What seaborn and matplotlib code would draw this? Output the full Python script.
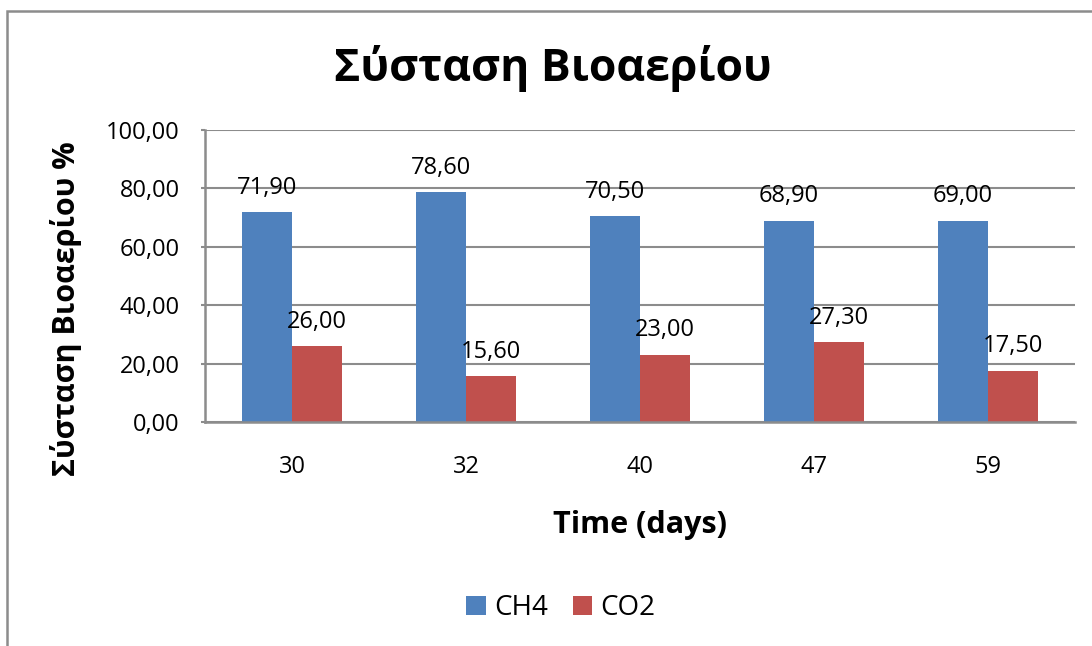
import matplotlib
matplotlib.use("Agg")
import matplotlib.pyplot as plt
import seaborn as sns
import pandas as pd
from matplotlib.patches import Rectangle
from matplotlib.ticker import FuncFormatter

days = ["30", "32", "40", "47", "59"]
ch4 = [71.9, 78.6, 70.5, 68.9, 69.0]
co2 = [26.0, 15.6, 23.0, 27.3, 17.5]
series_names = ["CH4", "CO2"]
yticks = [0, 20, 40, 60, 80, 100]

df = pd.DataFrame({
    "day": days * 2,
    "value": ch4 + co2,
    "gas": [series_names[0]] * len(days) + [series_names[1]] * len(days),
})

sns.set_theme(style="white")
FONT = ["Open Sans", "DejaVu Sans"]
plt.rcParams["font.family"] = FONT
plt.rcParams["text.color"] = "black"
plt.rcParams["xtick.color"] = "black"
plt.rcParams["ytick.color"] = "black"

W, H = 1092, 646
fig = plt.figure(figsize=(W / 100, H / 100), dpi=100)
ax = fig.add_axes([205 / W, 1 - 422 / H, (1075 - 205) / W, (422 - 130) / H])

palette = {"CH4": "#4F81BD", "CO2": "#C0504D"}
sns.barplot(data=df, x="day", y="value", hue="gas", order=days,
            hue_order=series_names, palette=palette, width=0.575,
            saturation=1, linewidth=0, ax=ax, legend=True)

ax.set_ylim(0, 100)
ax.set_yticks(yticks)
ax.yaxis.set_major_formatter(FuncFormatter(lambda v, p: f"{v:.2f}".replace(".", ",")))
ax.grid(axis="y", color="#8c8c8c", lw=1.5)
ax.set_axisbelow(True)
for s in ["top", "right"]:
    ax.spines[s].set_visible(False)
for s in ["left", "bottom"]:
    ax.spines[s].set_color("#8c8c8c")
    ax.spines[s].set_linewidth(1.8)
ax.tick_params(axis="y", length=3, width=1.5, color="#8c8c8c", pad=15,
               labelsize=17, left=True, labelcolor="black")
ax.tick_params(axis="x", length=0, pad=24, labelsize=17, labelcolor="black")
ax.set_xlabel("")
ax.set_ylabel("")

for cont in ax.containers:
    ax.bar_label(cont, labels=[f"{v:.2f}".replace(".", ",") for v in cont.datavalues],
                 padding=9, fontsize=17, color="black")

handles, labels = ax.get_legend_handles_labels()
ax.get_legend().remove()
fig.legend(handles, labels, loc="center", bbox_to_anchor=(561 / W, 1 - 608 / H),
           ncol=2, frameon=False, fontsize=20, handlelength=0.7, handleheight=0.7,
           handletextpad=0.3, columnspacing=0.9)

fig.text(553 / W, 1 - 68 / H, "Σύσταση Βιοαερίου", ha="center", va="center",
         fontsize=32, fontweight="bold", color="black")
fig.text(640 / W, 1 - 525 / H, "Time (days)", ha="center", va="center",
         fontsize=22, fontweight="bold", color="black")
fig.text(66 / W, 1 - 309 / H, "Σύσταση Βιοαερίου %", ha="center", va="center",
         rotation=90, fontsize=22, fontweight="bold", color="black")

fig.add_artist(Rectangle((7 / W, -0.1), 1.2, 1 - 11 / H + 0.1, transform=fig.transFigure,
                         fill=False, edgecolor="#8c8c8c", lw=1.8))

fig.savefig("out.png", dpi=100)
